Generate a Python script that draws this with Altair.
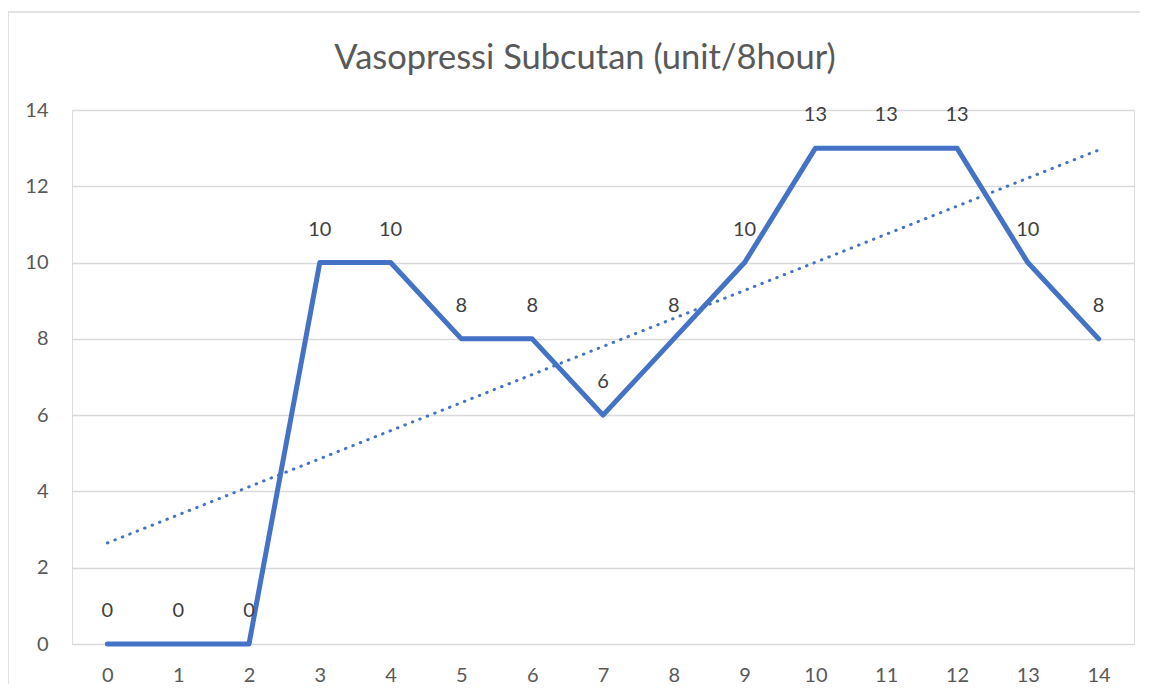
import altair as alt
import pandas as pd

hours = list(range(15))
values = [0, 0, 0, 10, 10, 8, 8, 6, 8, 10, 13, 13, 13, 10, 8]
y_ticks = [0, 2, 4, 6, 8, 10, 12, 14]
title_text = "Vasopressi Subcutan (unit/8hour)"

df = pd.DataFrame({"x": hours, "y": values})

W, H = 1062, 534
FONT = "Lato"
BLUE = "#4472C4"

xscale = alt.Scale(domain=[-0.5, 14.5], nice=False, zero=False)
yscale = alt.Scale(domain=[0, 14], nice=False)

base = alt.Chart(df)

line = base.mark_line(color=BLUE, strokeWidth=5, strokeJoin="round", strokeCap="round").encode(
    x=alt.X("x:Q", scale=xscale,
            axis=alt.Axis(values=hours, format="d", grid=False, domain=False, ticks=False,
                          labelFont=FONT, labelFontSize=20, labelColor="#595959",
                          labelPadding=21, title=None)),
    y=alt.Y("y:Q", scale=yscale,
            axis=alt.Axis(values=y_ticks, format="d", grid=True, gridColor="#d9d9d9",
                          gridWidth=1.3, domain=False, ticks=False,
                          labelFont=FONT, labelFontSize=20, labelColor="#595959",
                          labelPadding=24, title=None)),
)

trend = base.transform_regression("x", "y", method="linear", extent=[0, 14]).mark_line(
    color=BLUE, strokeWidth=3, strokeDash=[0.5, 7.5], strokeCap="round"
).encode(x=alt.X("x:Q", scale=xscale), y=alt.Y("y:Q", scale=yscale))

labels = base.mark_text(font=FONT, fontSize=20, color="#404040", baseline="middle", dy=-33).encode(
    x=alt.X("x:Q", scale=xscale), y=alt.Y("y:Q", scale=yscale), text=alt.Text("y:Q", format="d")
)

title = alt.Chart(pd.DataFrame({"t": [title_text]})).mark_text(
    font=FONT, fontSize=34.5, color="#595959", baseline="middle", align="center"
).encode(x=alt.value(513), y=alt.value(-51), text="t:N")

one = pd.DataFrame({"a": [1]})
frame_top = alt.Chart(one).mark_rule(color="#d9d9d9", strokeWidth=1.5).encode(
    x=alt.value(-64), x2=alt.value(1100), y=alt.value(-98)
)
frame_left = alt.Chart(one).mark_rule(color="#d9d9d9", strokeWidth=1.5).encode(
    x=alt.value(-64), y=alt.value(-98), y2=alt.value(700)
)

chart = alt.layer(frame_top, frame_left, trend, line, labels, title).properties(
    width=W, height=H, padding={"left": 64, "top": 102, "right": 6, "bottom": 40},
    autosize=alt.AutoSizeParams(type="none"),
).configure_view(stroke=None).configure(background="white")

chart.save("out.html", embed_options={"renderer": "svg", "actions": False})
